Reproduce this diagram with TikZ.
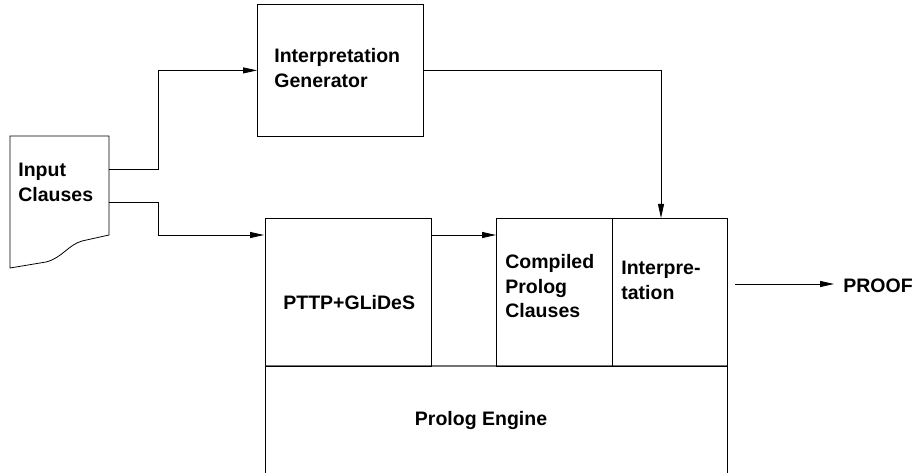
\documentclass[tikz,border=0pt]{standalone}
\usepackage{fontspec}
\setmainfont{Liberation Sans}
\usetikzlibrary{arrows.meta,calc}
\begin{document}
\begin{tikzpicture}[x=1pt,y=-1pt,
  line width=0.8pt,
  box/.style={draw,line width=0.8pt,rectangle,inner sep=0pt,anchor=north west},
  lbl/.style={inner sep=0pt,font=\fontsize{19.5}{24.5}\selectfont\bfseries,align=left},
  arr/.style={-{Triangle[length=14pt,width=6pt]}},
]
\useasboundingbox (0,0) rectangle (915,473);
% Prolog engine (open at the bottom)
\node[inner sep=0pt,anchor=north west,minimum width=462pt,minimum height=107pt] (pe) at (265,366) {};
\draw[line width=1.1pt,black!55] (pe.north west) -- (pe.north east);
\draw (pe.south west) -- (pe.north west);
\draw (pe.south east) -- (pe.north east);
\node[lbl,anchor=base] (pet) at (481,425) {Prolog Engine};
% boxes
\node[box,minimum width=166pt,minimum height=132pt] (ig) at (257,4) {};
\node[box,minimum width=166pt,minimum height=148pt] (pt) at (265,218) {};
\node[box,minimum width=116pt,minimum height=148pt] (cp) at (496,218) {};
\node[box,minimum width=115pt,minimum height=148pt] (ip) at (612,218) {};
\draw[line width=1.1pt] (pt.south west) -- (pt.south east);
\draw[line width=1.1pt] (cp.south west) -- (ip.south east);
% document
\draw (10,136) -- (109,136) -- (109,235) -- (82,241)
  .. controls (68,245) and (62,258) .. (46,262) -- (10,268) -- cycle;
\node[inner sep=0pt,anchor=north west,minimum width=99pt,minimum height=132pt] (doc) at (10,136) {};
\coordinate (d1) at (109,169);
\coordinate (d2) at (109,202);
% texts
\node[lbl,anchor=north west] (igt) at (274,48) {Interpretation\\Generator};
\node[lbl,anchor=north west] (doct) at (18,163) {Input\\Clauses};
\node[lbl,anchor=base west] (ptt) at (283,309) {PTTP+GLiDeS};
\node[lbl,anchor=north west] (cpt) at (505,254) {Compiled\\Prolog\\Clauses};
\node[lbl,anchor=north west] (ipt) at (621,261) {Interpre-\\tation};
\node[lbl,anchor=base west] (proof) at (843,292) {PROOF};
\coordinate (po) at (735,284);
% connectors
\draw[arr] (d1) -- ++(49,0) |- (ig.west);
\draw[arr] (d2) -- ++(49,0) |- ($(pt.north west)+(-1,17)$);
\draw[arr] ($(pt.north east)+(0,17)$) -- ($(cp.north west)+(0,17)$);
\draw[arr] (ig.east) -| ($(ip.north west)+(49,0)$);
\draw[arr] (po) -- (po -| proof.west) [shorten >=9pt];
\end{tikzpicture}
\end{document}
